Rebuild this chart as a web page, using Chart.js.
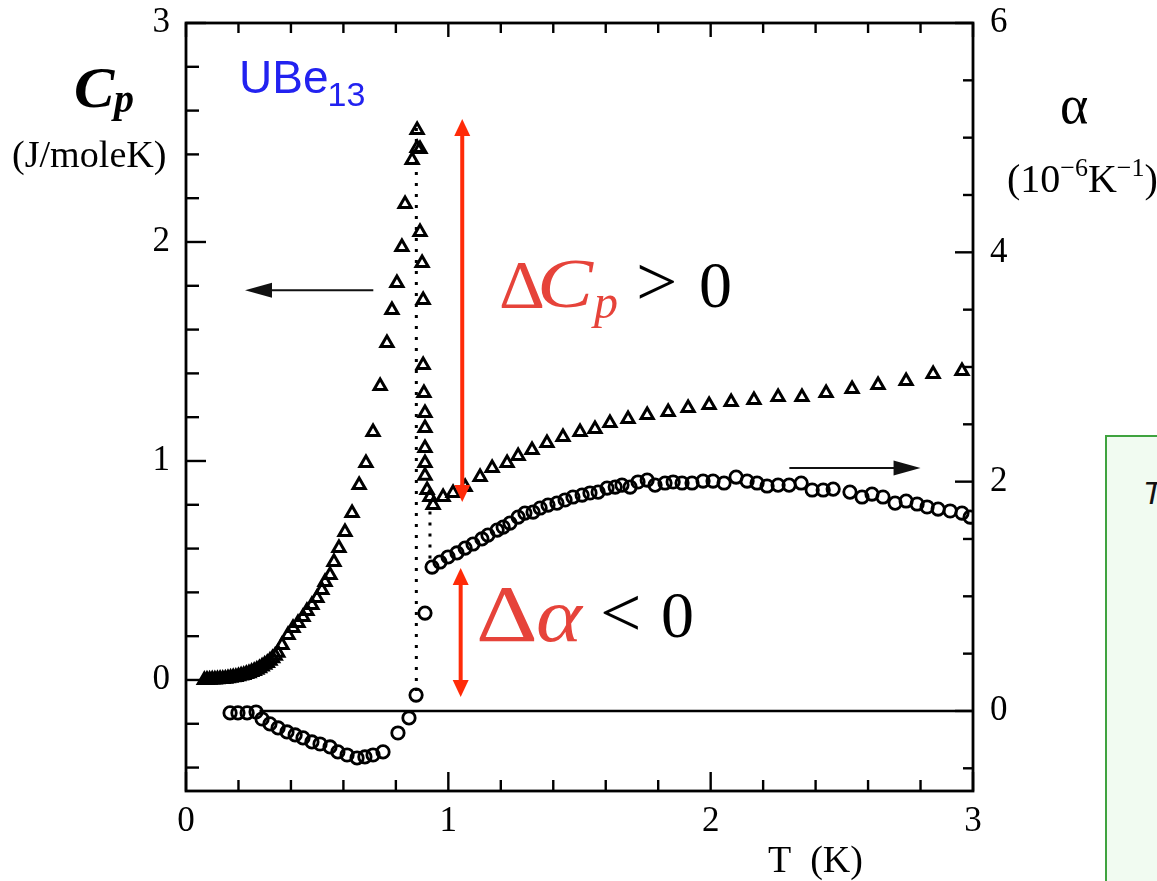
<!DOCTYPE html>
<html>
<head>
<meta charset="utf-8">
<script src="https://cdn.jsdelivr.net/npm/chart.js@4.4.1/dist/chart.umd.min.js"></script>
<style>
  html, body { margin: 0; padding: 0; background: #fff; }
  #wrap { position: relative; width: 1157px; height: 881px; overflow: hidden; }
  #note {
    position: absolute; left: 1105px; top: 435px; width: 90px; height: 480px;
    box-sizing: border-box; border: 2px solid #3fa33f; background: #f1fbf1;
  }
  #note span {
    position: absolute; left: 36px; top: 38px;
    font: italic 32px "Liberation Sans", Arial, sans-serif; color: #111;
  }
</style>
</head>
<body>
<div id="wrap">
  <canvas id="chart"></canvas>
  <div id="note"><span>T</span></div>
</div>
<script>
// UBe13: specific heat (triangles, left axis) and thermal expansion (circles, right axis)

const cpT = [
  0.07, 0.08, 0.09, 0.10, 0.11, 0.12, 0.13, 0.14, 0.15, 0.16, 0.17, 0.18, 0.19, 0.20,
  0.21, 0.22, 0.23, 0.24, 0.25, 0.26, 0.27, 0.28, 0.29, 0.30, 0.31, 0.32, 0.33, 0.34, 0.35,
  0.366, 0.389, 0.408, 0.427, 0.446, 0.461, 0.480, 0.499, 0.518, 0.530, 0.549, 0.564,
  0.583, 0.606, 0.633, 0.660, 0.686, 0.713, 0.740, 0.766, 0.785, 0.804, 0.823, 0.835,
  0.862, 0.881, 0.881, 0.892, 0.892, 0.900, 0.904, 0.904, 0.907, 0.911, 0.911, 0.911,
  0.911, 0.911, 0.919, 0.930, 0.942, 0.980, 1.018, 1.064, 1.121, 1.167, 1.224, 1.266,
  1.319, 1.376, 1.437, 1.502, 1.559, 1.616, 1.685, 1.758, 1.838, 1.914, 1.994, 2.078,
  2.165, 2.257, 2.348, 2.440, 2.539, 2.638, 2.745, 2.848, 2.958,
];
const cpVal = [
  0.000, 0.001, 0.001, 0.002, 0.002, 0.003, 0.004, 0.005, 0.006, 0.008, 0.010, 0.012, 0.014, 0.017,
  0.020, 0.023, 0.027, 0.031, 0.036, 0.041, 0.047, 0.054, 0.061, 0.069, 0.078, 0.088, 0.099, 0.111, 0.124,
  0.160, 0.205, 0.237, 0.260, 0.288, 0.315, 0.342, 0.374, 0.411, 0.447, 0.479, 0.539,
  0.603, 0.676, 0.763, 0.890, 0.991, 1.132, 1.342, 1.539, 1.689, 1.813, 1.977, 2.174,
  2.374, 2.429, 2.511, 2.425, 2.046, 1.904, 1.735, 1.438, 1.311, 1.219, 1.151, 1.059,
  0.991, 0.932, 0.868, 0.836, 0.799, 0.836, 0.854, 0.881, 0.927, 0.968, 0.991, 1.023,
  1.050, 1.082, 1.110, 1.132, 1.146, 1.174, 1.192, 1.210, 1.224, 1.242, 1.256, 1.269,
  1.279, 1.292, 1.292, 1.311, 1.329, 1.347, 1.365, 1.397, 1.411,
];

const alphaT = [
  0.168, 0.198, 0.233, 0.267, 0.290, 0.320, 0.351, 0.385, 0.416, 0.446, 0.480, 0.511,
  0.549, 0.579, 0.614, 0.652, 0.682, 0.713, 0.751, 0.808, 0.850, 0.877, 0.911,
  0.938, 0.968, 0.999, 1.033, 1.064, 1.094, 1.128, 1.151, 1.186, 1.209, 1.235, 1.266,
  1.292, 1.323, 1.350, 1.380, 1.414, 1.445, 1.475, 1.510, 1.540, 1.571, 1.605, 1.636,
  1.662, 1.693, 1.723, 1.758, 1.788, 1.826, 1.857, 1.891, 1.929, 1.971, 2.009, 2.051,
  2.097, 2.139, 2.177, 2.215, 2.257, 2.299, 2.345, 2.387, 2.429, 2.467, 2.531, 2.577,
  2.615, 2.657, 2.703, 2.745, 2.787, 2.825, 2.867, 2.913, 2.958, 2.989,
];
const alphaVal = [
  -0.017, -0.017, -0.017, -0.009, -0.070, -0.113, -0.148, -0.183, -0.209, -0.235, -0.270, -0.288,
  -0.314, -0.357, -0.384, -0.410, -0.401, -0.384, -0.357, -0.192, -0.061, 0.139, 0.854,
  1.255, 1.299, 1.343, 1.378, 1.421, 1.456, 1.500, 1.534, 1.578, 1.604, 1.639, 1.691,
  1.726, 1.735, 1.770, 1.796, 1.813, 1.840, 1.866, 1.883, 1.901, 1.909, 1.944, 1.953,
  1.970, 1.953, 1.997, 2.014, 1.970, 1.988, 1.997, 1.988, 1.988, 2.005, 2.005, 1.988,
  2.040, 2.005, 1.988, 1.962, 1.970, 1.970, 1.988, 1.927, 1.927, 1.935, 1.909, 1.866,
  1.892, 1.866, 1.813, 1.831, 1.805, 1.779, 1.761, 1.744, 1.726, 1.691,
];

// dotted guide lines through the transition (T, Cp pairs)
const dropT = [0.878, 0.878];
const dropCp = [2.52, -0.05];
const stepT = [0.930, 0.930];
const stepCp = [0.82, 0.55];
// alpha = 0 reference line
const zeroT = [0.28, 3.0];
const zeroAlpha = [0, 0];

// axis ticks: minor everywhere, labels only on the majors
const tTicks = [0, 0.2, 0.4, 0.6, 0.8, 1, 1.2, 1.4, 1.6, 1.8, 2, 2.2, 2.4, 2.6, 2.8, 3];
const tMajor = [0, 1, 2, 3];
const cpTicks = [-0.4, -0.2, 0, 0.2, 0.4, 0.6, 0.8, 1, 1.2, 1.4, 1.6, 1.8, 2, 2.2, 2.4, 2.6, 2.8, 3];
const cpMajor = [0, 1, 2, 3];
const alphaTicks = [-0.5, 0, 0.5, 1, 1.5, 2, 2.5, 3, 3.5, 4, 4.5, 5, 5.5, 6];
const alphaMajor = [0, 2, 4, 6];

// annotation arrows in data units
const arrowCp = { t1: 0.714, t2: 0.225, cp: 1.78 };          // points to left axis
const arrowAlpha = { t1: 2.30, t2: 2.80, a: 2.12 };          // points to right axis
const deltaCp = { t: 1.053, lo: 0.813, hi: 2.562 };
const deltaAlpha = { t: 1.047, lo: 0.122, hi: 1.247 };

const SERIF = '"Liberation Serif", "Times New Roman", serif';
const SANS = '"Liberation Sans", Arial, sans-serif';
const RED_TXT = '#e6433a';
const RED_ARW = '#ff2b08';

const xy = (xs, ys) => xs.map((x, i) => ({ x, y: ys[i] }));
const near = (v, list) => list.some((m) => Math.abs(m - v) < 1e-6);

function drawArrow(ctx, x1, y1, x2, y2, o) {
  const a = Math.atan2(y2 - y1, x2 - x1);
  const c = Math.cos(a), s = Math.sin(a);
  const head = (x, y, ux, uy) => {
    ctx.beginPath();
    ctx.moveTo(x, y);
    ctx.lineTo(x - o.len * ux - o.half * uy, y - o.len * uy + o.half * ux);
    ctx.lineTo(x - o.len * ux + o.half * uy, y - o.len * uy - o.half * ux);
    ctx.closePath();
    ctx.fill();
  };
  ctx.save();
  ctx.strokeStyle = o.color;
  ctx.fillStyle = o.color;
  ctx.lineWidth = o.width;
  ctx.beginPath();
  const sx = o.both ? x1 + (o.len - 2) * c : x1;
  const sy = o.both ? y1 + (o.len - 2) * s : y1;
  ctx.moveTo(sx, sy);
  ctx.lineTo(x2 - (o.len - 2) * c, y2 - (o.len - 2) * s);
  ctx.stroke();
  head(x2, y2, c, s);
  if (o.both) head(x1, y1, -c, -s);
  ctx.restore();
}

// draws a run of text, optionally stretched sideways; returns the x after it
function text(ctx, s, x, y, font, color, sx = 1) {
  ctx.save();
  ctx.font = font;
  ctx.fillStyle = color;
  ctx.translate(x, y);
  ctx.scale(sx, 1);
  ctx.fillText(s, 0, 0);
  const w = ctx.measureText(s).width * sx;
  ctx.restore();
  return x + w;
}

const framePlugin = {
  id: 'frame',
  afterDatasetsDraw(chart) {
    const { ctx, chartArea: a, scales } = chart;
    ctx.save();
    ctx.strokeStyle = '#000';
    ctx.lineCap = 'butt';
    ctx.lineWidth = 2.4;
    const seg = (x1, y1, x2, y2) => {
      ctx.beginPath(); ctx.moveTo(x1, y1); ctx.lineTo(x2, y2); ctx.stroke();
    };
    for (const v of tTicks) {
      const px = scales.x.getPixelForValue(v);
      const big = near(v, tMajor);
      seg(px, a.bottom, px, a.bottom - (big ? 19 : 11));
      seg(px, a.top, px, a.top + (big ? 14 : 10));
    }
    for (const v of cpTicks) {
      const py = scales.yCp.getPixelForValue(v);
      seg(a.left, py, a.left + (near(v, cpMajor) ? 20 : 13), py);
    }
    for (const v of alphaTicks) {
      const py = scales.yA.getPixelForValue(v);
      seg(a.right, py, a.right - (near(v, alphaMajor) ? 18 : 10), py);
    }
    ctx.lineWidth = 2.8;
    ctx.strokeRect(a.left, a.top, a.right - a.left, a.bottom - a.top);
    ctx.restore();
  },
};

const notesPlugin = {
  id: 'notes',
  afterDraw(chart) {
    const { ctx, scales } = chart;
    const X = (v) => scales.x.getPixelForValue(v);
    const Yc = (v) => scales.yCp.getPixelForValue(v);
    const Ya = (v) => scales.yA.getPixelForValue(v);
    ctx.save();
    ctx.textBaseline = 'alphabetic';

    // black pointer arrows
    const blk = { color: '#111', width: 2, len: 27, half: 7.5 };
    drawArrow(ctx, X(arrowCp.t1), Yc(arrowCp.cp), X(arrowCp.t2), Yc(arrowCp.cp), blk);
    drawArrow(ctx, X(arrowAlpha.t1), Ya(arrowAlpha.a), X(arrowAlpha.t2), Ya(arrowAlpha.a), blk);

    // red jump arrows
    const red = { color: RED_ARW, width: 4, len: 17, half: 8, both: true };
    drawArrow(ctx, X(deltaCp.t), Yc(deltaCp.lo), X(deltaCp.t), Yc(deltaCp.hi), red);
    drawArrow(ctx, X(deltaAlpha.t), Ya(deltaAlpha.lo), X(deltaAlpha.t), Ya(deltaAlpha.hi), red);

    // left axis title
    text(ctx, 'C', 74, 107, `bold italic 56px ${SERIF}`, '#000', 1.08);
    text(ctx, 'p', 114, 112, `bold italic 40px ${SERIF}`, '#000');
    text(ctx, '(J/moleK)', 12, 167, `37px ${SERIF}`, '#000', 1.03);

    // right axis title
    text(ctx, 'α', 1060, 123, `54px ${SERIF}`, '#000');
    let x = text(ctx, '(10', 1007, 192, `40px ${SERIF}`, '#000');
    x = text(ctx, '−6', x, 176, `26px ${SERIF}`, '#000');
    x = text(ctx, 'K', x, 192, `40px ${SERIF}`, '#000');
    x = text(ctx, '−1', x, 176, `26px ${SERIF}`, '#000');
    text(ctx, ')', x, 192, `40px ${SERIF}`, '#000');

    // x axis title
    text(ctx, 'T  (K)', 768, 872, `38px ${SERIF}`, '#000');

    // compound label
    x = text(ctx, 'UBe', 239, 93, `46px ${SANS}`, '#2222f0');
    text(ctx, '13', x - 1, 106, `34px ${SANS}`, '#2222f0');

    // ΔCp > 0
    text(ctx, 'Δ', 499, 307, `68px ${SERIF}`, RED_TXT, 1.05);
    text(ctx, 'C', 537, 307, `italic 70px ${SERIF}`, RED_TXT, 1.2);
    text(ctx, 'p', 594, 318, `italic 48px ${SERIF}`, RED_TXT);
    text(ctx, '>', 636, 305, `70px ${SERIF}`, '#000', 1.05);
    text(ctx, '0', 699, 307, `66px ${SERIF}`, '#000');

    // Δα < 0
    text(ctx, 'Δ', 476, 641, `80px ${SERIF}`, RED_TXT, 1.2);
    text(ctx, 'α', 536, 641, `italic 76px ${SERIF}`, RED_TXT, 1.15);
    text(ctx, '<', 600, 636, `70px ${SERIF}`, '#000', 1.05);
    text(ctx, '0', 661, 637, `66px ${SERIF}`, '#000');

    ctx.restore();
  },
};

const tickFont = { family: SERIF, size: 35 };
// keep the plot frame fixed: no extra room reserved for edge labels
const noPad = (s) => { s.paddingTop = 0; s.paddingBottom = 0; s.paddingLeft = 0; s.paddingRight = 0; };

new Chart(document.getElementById('chart'), {
  type: 'scatter',
  data: {
    datasets: [
      {
        label: 'Cp',
        data: xy(cpT, cpVal),
        yAxisID: 'yCp',
        pointStyle: 'triangle',
        pointRadius: 7,
        borderColor: '#000',
        backgroundColor: 'rgba(0,0,0,0)',
        borderWidth: 3,
      },
      {
        label: 'alpha',
        data: xy(alphaT, alphaVal),
        yAxisID: 'yA',
        pointStyle: 'circle',
        pointRadius: 6.2,
        borderColor: '#000',
        backgroundColor: 'rgba(0,0,0,0)',
        borderWidth: 2.8,
      },
      {
        type: 'line',
        label: 'zero',
        data: xy(zeroT, zeroAlpha),
        yAxisID: 'yA',
        borderColor: '#000',
        borderWidth: 2.6,
        pointRadius: 0,
      },
      {
        type: 'line',
        label: 'drop',
        data: xy(dropT, dropCp),
        yAxisID: 'yCp',
        borderColor: '#000',
        borderWidth: 3,
        borderDash: [3, 8],
        pointRadius: 0,
      },
      {
        type: 'line',
        label: 'step',
        data: xy(stepT, stepCp),
        yAxisID: 'yCp',
        borderColor: '#000',
        borderWidth: 3,
        borderDash: [3, 8],
        pointRadius: 0,
      },
    ],
  },
  options: {
    animation: false,
    responsive: true,
    maintainAspectRatio: false,
    layout: { padding: { top: 23, left: 0, right: 0, bottom: 0 } },
    plugins: { legend: { display: false }, tooltip: { enabled: false } },
    scales: {
      x: {
        type: 'linear',
        position: 'bottom',
        min: 0,
        max: 3,
        grid: { display: false, drawTicks: false },
        border: { display: false },
        afterBuildTicks: (s) => { s.ticks = tTicks.map((value) => ({ value })); },
        afterFit: (s) => { s.height = 90; noPad(s); },
        ticks: {
          autoSkip: false,
          maxRotation: 0,
          padding: 10,
          color: '#000',
          font: tickFont,
          callback: (v) => (near(v, tMajor) ? String(Math.round(v)) : ''),
        },
      },
      yCp: {
        type: 'linear',
        position: 'left',
        min: -0.507,
        max: 3.0,
        grid: { display: false, drawTicks: false },
        border: { display: false },
        afterBuildTicks: (s) => { s.ticks = cpTicks.map((value) => ({ value })); },
        afterFit: (s) => { s.width = 186; noPad(s); },
        ticks: {
          autoSkip: false,
          padding: 16,
          color: '#000',
          font: tickFont,
          callback: (v) => (near(v, cpMajor) ? String(Math.round(v)) : ''),
        },
      },
      yA: {
        type: 'linear',
        position: 'right',
        min: -0.698,
        max: 6.0,
        grid: { display: false, drawTicks: false },
        border: { display: false },
        afterBuildTicks: (s) => { s.ticks = alphaTicks.map((value) => ({ value })); },
        afterFit: (s) => { s.width = 184; noPad(s); },
        ticks: {
          autoSkip: false,
          padding: 17,
          color: '#000',
          font: tickFont,
          callback: (v) => (near(v, alphaMajor) ? String(Math.round(v)) : ''),
        },
      },
    },
  },
  plugins: [framePlugin, notesPlugin],
});
</script>
</body>
</html>
